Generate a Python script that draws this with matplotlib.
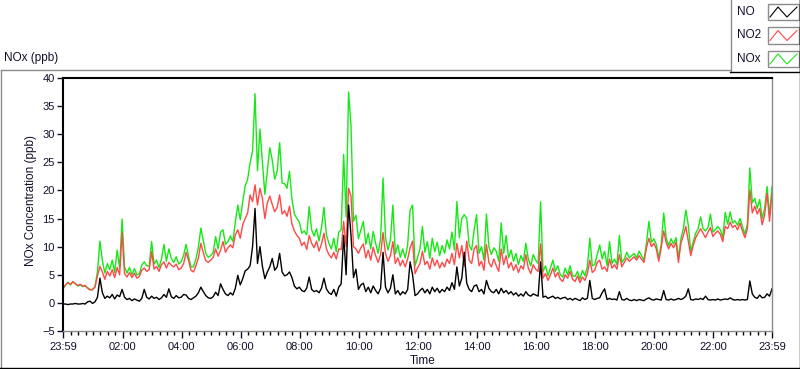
import numpy as np
import matplotlib.pyplot as plt
from matplotlib.patches import Rectangle
from matplotlib.lines import Line2D

# readings every 5 minutes, counted from 23:59
minutes = np.arange(0, 1441, 5)

no = [
    -0.2, -0.2, -0.3, -0.2, -0.2, -0.1, -0.2, -0.2, -0.1, -0.2, 0.2, 0.3,
    -0.1, 0.2, 1.0, 4.4, 1.8, 0.8, 1.2, 0.9, 1.5, 0.7, 1.4, 1.1,
    2.4, 1.0, 0.6, 0.8, 0.4, 0.7, 0.5, 0.3, 0.8, 2.4, 1.0, 0.7,
    1.2, 0.8, 1.0, 0.6, 0.9, 1.5, 1.0, 2.5, 1.1, 0.8, 1.3, 0.9,
    1.0, 1.5, 1.4, 0.8, 0.6, 0.9, 1.2, 1.8, 2.8, 2.0, 1.3, 0.9,
    0.8, 1.1, 1.9, 1.3, 3.4, 2.4, 1.6, 1.3, 1.8, 1.4, 2.6, 4.9,
    3.2, 4.3, 5.7, 6.0, 6.6, 10.0, 16.8, 7.0, 10.0, 6.5, 4.3, 5.5,
    6.4, 7.9, 5.8, 6.4, 8.8, 5.5, 4.8, 5.0, 5.5, 4.5, 3.0, 2.5,
    2.8, 2.2, 2.0, 2.6, 4.6, 2.4, 2.0, 2.2, 1.8, 2.6, 4.4, 2.5,
    1.8, 1.5, 2.4, 1.2, 2.8, 3.4, 12.0, 5.0, 17.4, 12.0, 4.5, 6.0,
    2.4, 3.2, 3.5, 2.0, 2.8, 1.8, 3.0, 2.2, 1.6, 2.6, 9.0, 2.8,
    1.8, 2.6, 5.0, 1.6, 2.2, 1.4, 2.0, 1.6, 2.4, 7.3, 5.0, 1.3,
    1.6, 2.2, 2.6, 1.8, 2.4, 1.6, 2.8, 2.0, 2.6, 1.8, 2.4, 2.0,
    2.8, 2.2, 3.6, 2.4, 6.4, 3.0, 4.4, 9.0, 3.5, 2.4, 2.0, 3.0,
    3.2, 2.0, 2.4, 1.6, 4.0, 2.6, 2.0, 1.8, 2.4, 1.6, 2.6, 1.8,
    2.2, 1.6, 2.0, 1.4, 1.8, 1.2, 1.6, 1.2, 2.0, 1.4, 1.2, 1.6,
    1.4, 1.2, 7.3, 1.0, 1.2, 0.8, 1.0, 1.2, 0.8, 1.0, 0.7, 0.9,
    1.0, 0.6, 0.8, 0.5, 0.8, 0.6, 0.4, 0.9, 0.6, 0.8, 4.0, 0.8,
    0.6, 0.8, 0.9, 1.8, 2.5, 0.6, 0.8, 0.6, 0.7, 0.5, 2.0, 0.6,
    0.5, 0.8, 0.5, 0.4, 0.6, 0.4, 0.6, 0.5, 0.4, 0.7, 0.9, 0.6,
    0.5, 0.7, 0.6, 0.5, 2.2, 0.6, 0.5, 0.7, 0.5, 0.6, 0.8, 0.6,
    0.8, 1.2, 2.5, 0.6, 0.5, 0.7, 0.6, 0.8, 0.6, 1.2, 0.6, 0.5,
    0.6, 0.5, 0.7, 0.5, 0.6, 0.7, 0.6, 0.9, 0.6, 0.5, 0.6, 0.5,
    0.6, 0.5, 0.6, 3.9, 1.6, 1.0, 0.8, 1.4, 0.9, 1.0, 1.6, 1.2,
    2.5,
]

no2 = [
    2.6, 3.2, 3.6, 3.3, 3.8, 3.4, 3.1, 3.3, 3.0, 3.1, 2.6, 2.3,
    2.4, 2.8, 4.8, 6.5, 5.5, 4.2, 5.6, 4.8, 5.9, 4.5, 6.3, 5.0,
    12.5, 5.2, 4.6, 5.4, 4.5, 5.3, 4.4, 4.7, 5.8, 6.2, 5.6, 5.9,
    9.1, 6.0, 6.5, 5.6, 6.8, 7.3, 6.2, 7.2, 6.7, 6.4, 6.9, 5.9,
    6.2, 7.0, 9.0, 7.6, 5.8, 5.5, 6.6, 8.0, 10.6, 8.9, 7.5, 7.2,
    7.6, 8.1, 9.6, 8.3, 9.4, 10.9, 9.0, 9.8, 10.3, 9.8, 12.1, 13.0,
    11.5, 13.9, 15.0, 16.0, 19.2, 18.0, 21.0, 17.4, 20.4, 18.6, 15.0, 17.8,
    19.0, 17.5, 16.2, 17.0, 19.2, 15.8, 16.4, 15.4, 17.2, 14.0, 12.8, 12.0,
    11.5, 10.2, 10.8, 9.5, 12.0, 10.6, 9.8, 11.0, 9.2, 10.5, 12.4, 9.6,
    8.6, 8.0, 9.0, 7.8, 9.6, 9.5, 14.5, 10.0, 20.4, 19.0, 10.0, 9.6,
    8.8, 9.8, 10.5, 8.0, 9.4, 7.6, 9.9, 8.4, 7.2, 8.6, 12.5, 8.8,
    7.4, 8.4, 10.9, 7.0, 8.0, 6.6, 7.6, 6.4, 7.8, 9.8, 11.0, 5.2,
    6.2, 7.0, 9.2, 6.8, 7.4, 6.0, 8.0, 6.6, 7.6, 6.2, 7.2, 6.4,
    7.8, 7.0, 8.8, 6.8, 10.6, 8.0, 10.2, 6.5, 11.0, 7.6, 7.0, 9.6,
    10.2, 6.6, 7.4, 5.8, 10.4, 7.2, 6.4, 7.8, 6.6, 5.6, 9.6, 6.8,
    8.4, 6.2, 7.2, 5.8, 6.8, 5.4, 6.6, 6.0, 8.6, 6.2, 5.2, 6.8,
    6.0, 5.6, 10.5, 4.4, 5.2, 4.0, 5.0, 6.2, 4.6, 5.4, 4.2, 3.8,
    5.0, 4.4, 5.6, 4.2, 3.8, 4.8, 3.6, 4.6, 4.0, 5.2, 7.6, 5.4,
    5.8, 7.2, 7.6, 6.0, 6.4, 5.6, 7.8, 6.2, 6.8, 6.0, 8.6, 6.4,
    7.2, 8.0, 7.4, 7.8, 8.2, 7.6, 8.4, 7.8, 7.2, 9.8, 11.5, 10.0,
    10.6, 9.6, 7.4, 9.8, 12.8, 10.8, 9.6, 10.6, 9.8, 10.8, 7.2, 10.6,
    12.0, 13.6, 11.0, 8.4, 10.2, 11.6, 12.4, 13.2, 12.4, 11.6, 12.6, 13.4,
    11.8, 12.4, 12.8, 12.2, 10.9, 13.6, 13.2, 14.4, 13.4, 13.8, 13.0, 14.2,
    12.8, 11.6, 13.2, 20.1, 16.0, 17.2, 15.8, 16.8, 13.9, 15.6, 19.5, 14.5,
    19.5,
]

nox = [
    2.5, 3.1, 3.7, 3.2, 3.7, 3.5, 3.0, 3.2, 2.9, 3.0, 2.7, 2.4,
    2.3, 2.9, 5.6, 11.0, 7.5, 5.3, 7.0, 5.9, 7.6, 5.4, 9.4, 6.2,
    14.9, 6.4, 5.3, 6.3, 5.0, 6.1, 5.0, 5.1, 6.7, 7.3, 6.6, 6.5,
    10.9, 6.9, 7.6, 6.3, 7.8, 10.4, 7.4, 9.6, 7.9, 7.2, 8.2, 6.9,
    7.3, 8.5, 10.4, 8.3, 6.4, 6.4, 7.8, 9.9, 13.3, 11.0, 8.8, 8.1,
    8.4, 9.0, 11.8, 9.6, 12.6, 13.0, 10.4, 10.9, 11.9, 10.9, 14.4, 17.4,
    14.8, 18.0, 20.8, 22.0, 24.9, 27.0, 37.2, 23.5, 30.9, 25.0, 19.3, 23.5,
    27.6, 25.4, 22.0, 23.4, 28.5, 21.3, 21.2, 20.4, 23.4, 18.5, 15.8, 15.0,
    14.4, 12.4, 12.8, 12.1, 17.1, 13.0, 11.9, 13.2, 11.0, 13.4, 17.0, 12.1,
    10.6, 9.6, 11.5, 9.1, 12.6, 13.0, 26.4, 15.3, 37.5, 31.5, 14.5, 15.6,
    11.4, 13.0, 14.5, 10.4, 12.4, 9.6, 12.7, 10.6, 8.8, 11.4, 22.2, 11.6,
    9.4, 11.2, 17.4, 8.7, 10.3, 8.1, 9.6, 8.0, 10.3, 16.5, 17.4, 6.6,
    8.0, 9.6, 13.6, 9.0, 10.9, 7.9, 11.5, 9.1, 10.8, 8.4, 10.2, 8.8,
    11.2, 9.6, 12.6, 9.4, 18.0, 11.6, 15.0, 15.7, 15.0, 10.2, 9.4, 13.0,
    15.7, 8.8, 10.0, 7.6, 15.8, 10.0, 8.6, 9.8, 9.2, 7.4, 14.2, 8.8,
    12.0, 8.0, 9.4, 7.4, 8.8, 6.8, 8.4, 7.4, 10.6, 7.8, 6.6, 8.6,
    7.6, 7.0, 18.0, 5.6, 6.6, 4.8, 6.2, 7.6, 5.6, 6.6, 5.0, 4.6,
    6.2, 5.0, 6.6, 4.8, 4.7, 5.6, 4.2, 5.8, 4.8, 6.4, 11.5, 6.6,
    6.8, 8.6, 10.3, 7.8, 9.2, 6.6, 10.9, 7.0, 7.8, 6.8, 12.0, 7.2,
    7.8, 9.0, 8.0, 8.4, 8.8, 8.0, 9.2, 8.4, 7.6, 10.6, 14.5, 10.8,
    11.4, 10.4, 8.0, 10.4, 16.0, 11.6, 10.2, 11.4, 10.5, 11.6, 8.0, 11.4,
    13.2, 16.5, 13.8, 9.2, 10.8, 12.4, 13.2, 15.3, 13.2, 12.8, 13.4, 15.8,
    12.6, 13.0, 13.6, 13.0, 11.6, 16.1, 14.0, 16.2, 14.2, 14.6, 13.8, 15.0,
    13.6, 12.2, 14.0, 24.0, 17.8, 18.6, 16.8, 18.4, 15.0, 16.8, 20.7, 15.6,
    20.7,
]

tick_pos = [0, 121, 241, 361, 481, 601, 721, 841, 961, 1081, 1201, 1321, 1440]
tick_labels = ['23:59', '02:00', '04:00', '06:00', '08:00', '10:00', '12:00',
               '14:00', '16:00', '18:00', '20:00', '22:00', '23:59']

plt.rcParams['font.family'] = ['Liberation Sans', 'DejaVu Sans']
plt.rcParams['font.size'] = 8
txt = '#10102a'

W, H = 800, 369
fig = plt.figure(figsize=(8, 3.69), dpi=100)


def fx(px):
    return px / W


def fy(py):
    return 1 - py / H


ax = fig.add_axes([fx(63), fy(331), fx(772) - fx(63), fy(78) - fy(331)])
ax.plot(minutes, nox, color='#16e816', lw=1)
ax.plot(minutes, no2, color='#ff4848', lw=1)
ax.plot(minutes, no, color='black', lw=1)

ax.set_xlim(0, 1440)
ax.set_ylim(-5, 40)
ax.set_yticks(range(-5, 41, 5))
ax.set_xticks(tick_pos)
ax.set_xticklabels(tick_labels)
ax.set_xticks(np.arange(16, 1440, 15), minor=True)
ax.tick_params(axis='both', colors=txt, labelcolor=txt, labelsize=8)
ax.tick_params(axis='y', length=4, width=1, pad=2)
ax.tick_params(axis='x', which='major', length=5, width=1, pad=3)
ax.tick_params(axis='x', which='minor', length=3, width=1)

for side in ['left', 'top']:
    ax.spines[side].set_color('black')
    ax.spines[side].set_linewidth(1.5)
for side in ['right', 'bottom']:
    ax.spines[side].set_color('#8c8c8c')
    ax.spines[side].set_linewidth(1)


# outer panel frame
def pix_line(x0, y0, x1, y1, color, lw=1):
    fig.add_artist(Line2D([fx(x0), fx(x1)], [fy(y0), fy(y1)],
                          transform=fig.transFigure, color=color, lw=lw))


pix_line(0.5, 69.5, 730, 69.5, '#8c8c8c')
pix_line(0.5, 69.5, 0.5, 368, '#8c8c8c')
pix_line(0, 368, 800, 368, 'black')
pix_line(799.5, 0, 799.5, 369, 'black')

# legend box
fig.add_artist(Rectangle((fx(730), fy(72)), fx(70), 72 / H,
                         transform=fig.transFigure, facecolor='white',
                         edgecolor='none'))
pix_line(730.5, 0, 730.5, 72, '#8c8c8c')
pix_line(730, 71.5, 800, 71.5, 'black')
pix_line(799.5, 0, 799.5, 72, 'black')

names = ['NO', 'NO2', 'NOx']
colors = ['black', '#ff4848', '#16e816']
for i, (name, c) in enumerate(zip(names, colors)):
    top = 4 + i * 23.5
    fig.text(fx(737), fy(top + 8), name, ha='left', va='center', color=txt,
             fontsize=8.5)
    fig.add_artist(Rectangle((fx(768), fy(top + 16)), fx(31), 16 / H,
                             transform=fig.transFigure, facecolor='white',
                             edgecolor='#8c8c8c', lw=1))
    zx = [770, 778, 787, 797]
    zy = [top + 13, top + 3, top + 13, top + 3]
    fig.add_artist(Line2D([fx(v) for v in zx], [fy(v) for v in zy],
                          transform=fig.transFigure, color=c, lw=0.8))

fig.text(fx(4), fy(58), 'NOx (ppb)', ha='left', va='center', color=txt,
         fontsize=8.5)
fig.text(fx(31), fy(200), 'NOx Concentration (ppb)', rotation=90,
         ha='center', va='center', color=txt, fontsize=8.5)
fig.text(fx(423), fy(361), 'Time', ha='center', va='center', color=txt,
         fontsize=8.5)

fig.savefig('out.png', dpi=100)
